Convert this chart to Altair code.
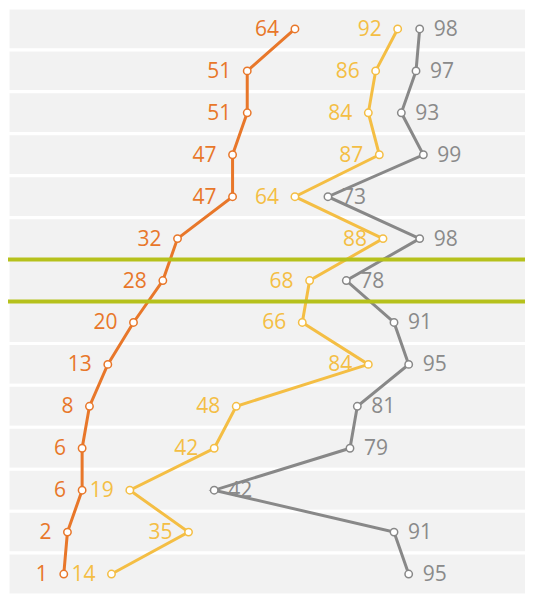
import altair as alt
import pandas as pd

orange = [64, 51, 51, 47, 47, 32, 28, 20, 13, 8, 6, 6, 2, 1]
yellow = [92, 86, 84, 87, 64, 88, 68, 66, 84, 48, 42, 19, 35, 14]
gray = [98, 97, 93, 99, 73, 98, 78, 91, 95, 81, 79, 42, 91, 95]
highlight_row = [6]

series = {"orange": orange, "yellow": yellow, "gray": gray}
colors = {"orange": "#E8772A", "yellow": "#F4BE44", "gray": "#888888"}
text_colors = {"orange": "#E8772A", "yellow": "#F4BE44", "gray": "#8A8A8A"}

rows = list(range(len(orange)))
rows_df = pd.DataFrame({"row": rows})
hl_df = pd.DataFrame({"row": highlight_row})

W, H = 517, 587
xscale = alt.Scale(domain=[-14.2, 126.7], nice=False, zero=False)
yscale = alt.Scale(domain=rows, paddingInner=0, paddingOuter=0)

X = lambda: alt.X("v:Q", scale=xscale, axis=None)
Y = lambda **kw: alt.Y("row:O", scale=yscale, axis=None, **kw)

bands = alt.Chart(rows_df).mark_rect(color="#F2F2F2", stroke="white", strokeWidth=3).encode(
    y=Y(), x=alt.value(0), x2=alt.value(W + 3)
)

layers = [bands]
for name, vals in series.items():
    df = pd.DataFrame({"row": rows, "v": vals})
    base = alt.Chart(df)
    line = base.mark_line(color=colors[name], strokeWidth=3).encode(x=X(), y=Y(), order="row:O")
    layers.append(line)

for name, vals in series.items():
    df = pd.DataFrame({"row": rows, "v": vals})
    base = alt.Chart(df)
    pts = base.mark_point(shape="circle", filled=True, fill="white", stroke=colors[name],
                          strokeWidth=1.5, size=55, opacity=1).encode(x=X(), y=Y())
    if name == "gray":
        txt = base.mark_text(align="left", baseline="middle", dx=14, dy=1, fontSize=21,
                             font="Open Sans", color=text_colors[name])
    else:
        txt = base.mark_text(align="right", baseline="middle", dx=-16, dy=1, fontSize=21,
                             font="Open Sans", color=text_colors[name])
    txt = txt.encode(x=X(), y=Y(), text="v:Q")
    layers += [pts, txt]

green = "#B6C11C"
r1 = alt.Chart(hl_df).mark_rule(color=green, strokeWidth=4).encode(
    y=Y(bandPosition=0), x=alt.value(0), x2=alt.value(W))
r2 = alt.Chart(hl_df).mark_rule(color=green, strokeWidth=4).encode(
    y=Y(bandPosition=1), x=alt.value(0), x2=alt.value(W))
layers += [r1, r2]

chart = alt.layer(*layers).properties(
    width=W, height=H, padding=0, autosize=alt.AutoSizeParams(type="none")
).configure_view(stroke=None)

chart.save("out.html", embed_options={"renderer": "svg", "actions": False})
